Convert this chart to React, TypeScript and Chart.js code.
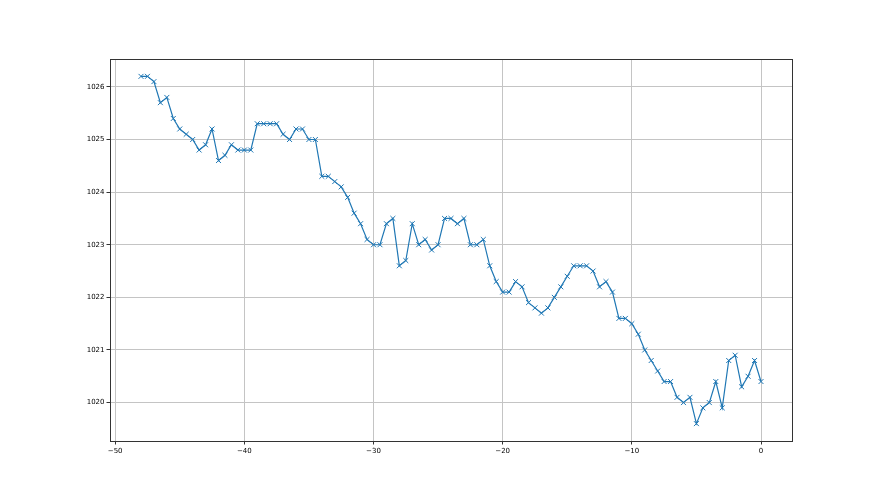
import React, { useEffect, useRef } from "react";
import { Chart, registerables } from "chart.js";

Chart.register(...registerables);

const xValues: number[] = [
  -48, -47.5, -47, -46.5, -46, -45.5, -45, -44.5, -44, -43.5, -43, -42.5, -42, -41.5, -41, -40.5,
  -40, -39.5, -39, -38.5, -38, -37.5, -37, -36.5, -36, -35.5, -35, -34.5, -34, -33.5, -33, -32.5,
  -32, -31.5, -31, -30.5, -30, -29.5, -29, -28.5, -28, -27.5, -27, -26.5, -26, -25.5, -25, -24.5,
  -24, -23.5, -23, -22.5, -22, -21.5, -21, -20.5, -20, -19.5, -19, -18.5, -18, -17.5, -17, -16.5,
  -16, -15.5, -15, -14.5, -14, -13.5, -13, -12.5, -12, -11.5, -11, -10.5, -10, -9.5, -9, -8.5,
  -8, -7.5, -7, -6.5, -6, -5.5, -5, -4.5, -4, -3.5, -3, -2.5, -2, -1.5, -1, -0.5, 0,
];

const pressure: number[] = [
  1026.2, 1026.2, 1026.1, 1025.7, 1025.8, 1025.4, 1025.2, 1025.1, 1025.0, 1024.8, 1024.9, 1025.2,
  1024.6, 1024.7, 1024.9, 1024.8, 1024.8, 1024.8, 1025.3, 1025.3, 1025.3, 1025.3, 1025.1, 1025.0,
  1025.2, 1025.2, 1025.0, 1025.0, 1024.3, 1024.3, 1024.2, 1024.1, 1023.9, 1023.6, 1023.4, 1023.1,
  1023.0, 1023.0, 1023.4, 1023.5, 1022.6, 1022.7, 1023.4, 1023.0, 1023.1, 1022.9, 1023.0, 1023.5,
  1023.5, 1023.4, 1023.5, 1023.0, 1023.0, 1023.1, 1022.6, 1022.3, 1022.1, 1022.1, 1022.3, 1022.2,
  1021.9, 1021.8, 1021.7, 1021.8, 1022.0, 1022.2, 1022.4, 1022.6, 1022.6, 1022.6, 1022.5, 1022.2,
  1022.3, 1022.1, 1021.6, 1021.6, 1021.5, 1021.3, 1021.0, 1020.8, 1020.6, 1020.4, 1020.4, 1020.1,
  1020.0, 1020.1, 1019.6, 1019.9, 1020.0, 1020.4, 1019.9, 1020.8, 1020.9, 1020.3, 1020.5, 1020.8,
  1020.4,
];

const xTicks: number[] = [-50, -40, -30, -20, -10, 0];
const yTicks: number[] = [1020, 1021, 1022, 1023, 1024, 1025, 1026];

const FONT = { family: "'DejaVu Sans', sans-serif", size: 7 };

const frame = {
  id: "frame",
  afterDraw(chart: any) {
    const { ctx, chartArea } = chart;
    ctx.save();
    ctx.strokeStyle = "#333";
    ctx.lineWidth = 1;
    ctx.strokeRect(
      Math.round(chartArea.left) + 0.5,
      Math.round(chartArea.top) + 0.5,
      Math.round(chartArea.right - chartArea.left),
      Math.round(chartArea.bottom - chartArea.top)
    );
    ctx.restore();
  },
};

const minusFmt = (v: any) => String(v).replace("-", "\u2212");

export default function App() {
  const ref = useRef<HTMLCanvasElement | null>(null);
  useEffect(() => {
    if (!ref.current) return;
    const chart = new Chart(ref.current, {
      type: "line",
      data: {
        datasets: [
          {
            data: xValues.map((x, i) => ({ x, y: pressure[i] })),
            borderColor: "#1f77b4",
            backgroundColor: "#1f77b4",
            borderWidth: 1.2,
            pointStyle: "crossRot",
            pointRadius: 3.5,
            pointBorderWidth: 1,
            pointBorderColor: "#1f77b4",
            pointHoverRadius: 3.5,
            tension: 0,
            fill: false,
          },
        ],
      },
      plugins: [frame],
      options: {
        responsive: false,
        animation: false,
        events: [],
        layout: { padding: { left: 0, top: 59, right: 88, bottom: 34 } },
        plugins: { legend: { display: false }, tooltip: { enabled: false } },
        scales: {
          x: {
            type: "linear",
            min: -50.4,
            max: 2.4,
            afterBuildTicks: (s: any) => {
              s.ticks = xTicks.map((v) => ({ value: v }));
            },
            afterFit: (s: any) => {
              s.height = 20;
            },
            border: { display: false },
            grid: { color: "#c4c4c4", lineWidth: 1, tickColor: "#333", tickLength: 3.5, drawTicks: true },
            ticks: { font: FONT, color: "#000", padding: 2.5, maxRotation: 0, callback: minusFmt },
          },
          y: {
            type: "linear",
            min: 1019.27,
            max: 1026.53,
            afterBuildTicks: (s: any) => {
              s.ticks = yTicks.map((v) => ({ value: v }));
            },
            afterFit: (s: any) => {
              s.width = 110;
            },
            border: { display: false },
            grid: { color: "#c4c4c4", lineWidth: 1, tickColor: "#333", tickLength: 3.5, drawTicks: true },
            ticks: { font: FONT, color: "#000", padding: 2, callback: minusFmt },
          },
        },
      },
    } as any);
    return () => chart.destroy();
  }, []);
  return (
    <div style={{ position: "fixed", left: 0, top: 0, width: 880, height: 495, background: "#fff" }}>
      <canvas ref={ref} width={880} height={495} style={{ width: 880, height: 495 }} />
    </div>
  );
}
